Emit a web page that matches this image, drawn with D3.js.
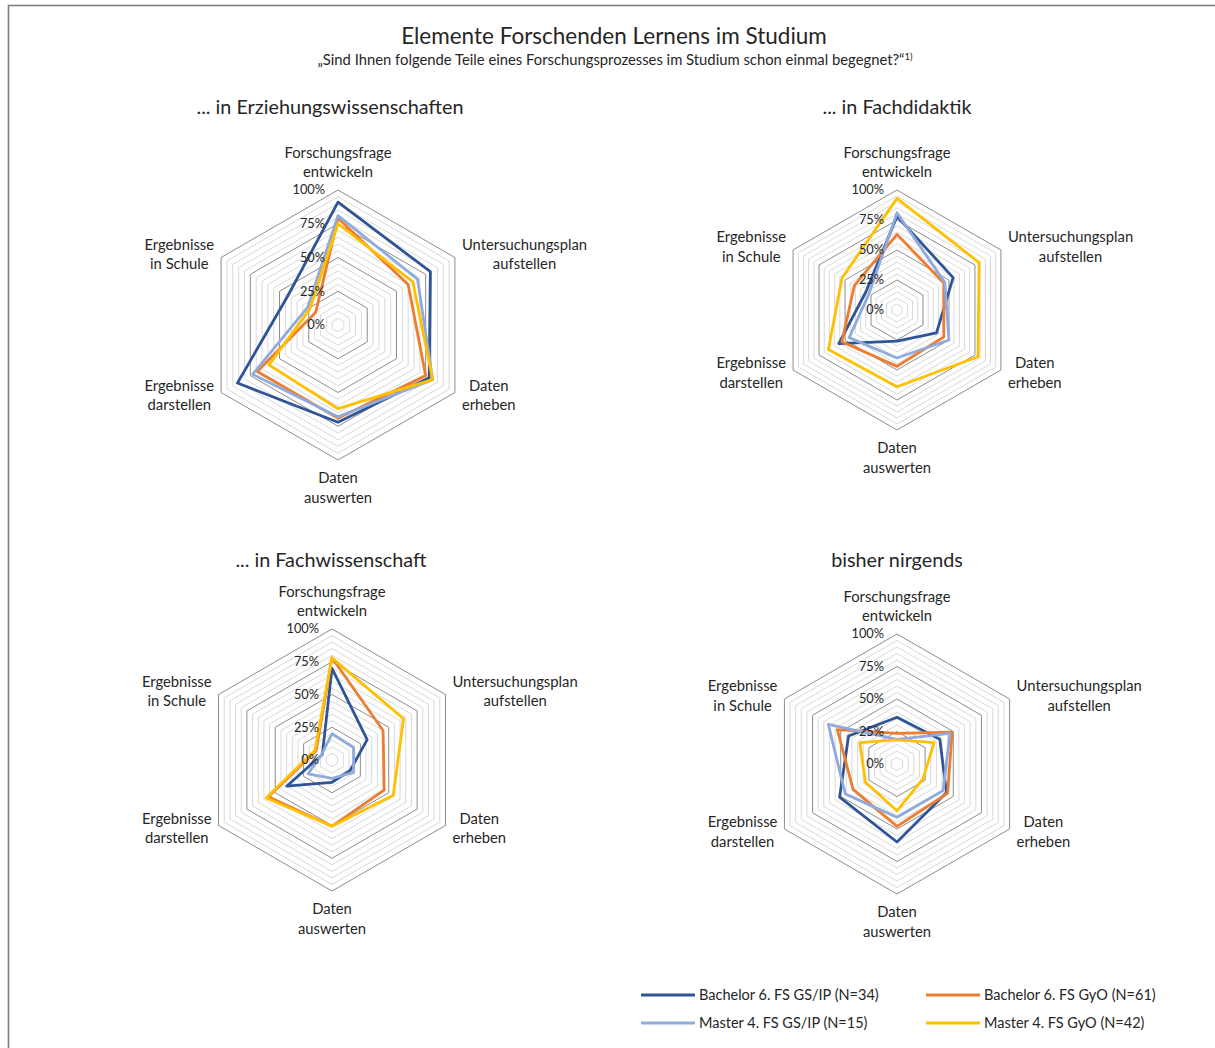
<!DOCTYPE html>
<html><head><meta charset="utf-8">
<script src="https://cdn.jsdelivr.net/npm/d3@7"></script>
<style>
body{margin:0;background:#fff}
svg{display:block}
text{font-family:Lato,"Open Sans",sans-serif;fill:#262626}
</style>
</head><body>
<svg id="chart" width="1215" height="1048"></svg>
<script>
// ---------- DATA ----------
const chartTitle = "Elemente Forschenden Lernens im Studium";
const chartSubtitle = "\u201ESind Ihnen folgende Teile eines Forschungsprozesses im Studium schon einmal begegnet?\u201C";
const subtitleNote = "1)";
const categories = [
  ["Forschungsfrage","entwickeln"],
  ["Untersuchungsplan","aufstellen"],
  ["Daten","erheben"],
  ["Daten","auswerten"],
  ["Ergebnisse","darstellen"],
  ["Ergebnisse","in Schule"]
];
const seriesNames = [
  "Bachelor 6. FS GS/IP (N=34)",
  "Bachelor 6. FS GyO (N=61)",
  "Master 4. FS GS/IP (N=15)",
  "Master 4. FS GyO (N=42)"
];
const tickValues = [0, 0.25, 0.5, 0.75, 1];
const tickLabels = ["0%", "25%", "50%", "75%", "100%"];
const panelTitles = ["... in Erziehungswissenschaften", "... in Fachdidaktik", "... in Fachwissenschaft", "bisher nirgends"];

// ... in Erziehungswissenschaften
const ewBachelorGSIP = [0.91, 0.79, 0.78, 0.72, 0.86, 0.43];
const ewBachelorGyO  = [0.79, 0.60, 0.75, 0.69, 0.69, 0.19];
const ewMasterGSIP   = [0.81, 0.68, 0.81, 0.68, 0.73, 0.26];
const ewMasterGyO    = [0.75, 0.64, 0.81, 0.62, 0.59, 0.24];
// ... in Fachdidaktik
const fdBachelorGSIP = [0.78, 0.54, 0.38, 0.26, 0.56, 0.30];
const fdBachelorGyO  = [0.63, 0.45, 0.45, 0.47, 0.53, 0.41];
const fdMasterGSIP   = [0.81, 0.46, 0.50, 0.40, 0.46, 0.27];
const fdMasterGyO    = [0.93, 0.79, 0.78, 0.64, 0.66, 0.53];
// ... in Fachwissenschaft
const fwBachelorGSIP = [0.70, 0.31, 0.16, 0.17, 0.40, 0.085];
const fwBachelorGyO  = [0.78, 0.45, 0.46, 0.505, 0.56, 0.14];
const fwMasterGSIP   = [0.20, 0.19, 0.19, 0.14, 0.21, 0.09];
const fwMasterGyO    = [0.78, 0.63, 0.54, 0.505, 0.58, 0.15];
// bisher nirgends
const bnBachelorGSIP = [0.36, 0.38, 0.44, 0.60, 0.51, 0.43];
const bnBachelorGyO  = [0.235, 0.49, 0.45, 0.48, 0.39, 0.53];
const bnMasterGSIP   = [0.19, 0.47, 0.41, 0.41, 0.46, 0.61];
const bnMasterGyO    = [0.185, 0.33, 0.23, 0.36, 0.28, 0.33];

// ---------- STYLE / LAYOUT ----------
const colors = ["#2F5597", "#ED7D31", "#8FAADC", "#FFC000"];
const panelData = [
  [ewBachelorGSIP, ewBachelorGyO, ewMasterGSIP, ewMasterGyO],
  [fdBachelorGSIP, fdBachelorGyO, fdMasterGSIP, fdMasterGyO],
  [fwBachelorGSIP, fwBachelorGyO, fwMasterGSIP, fwMasterGyO],
  [bnBachelorGSIP, bnBachelorGyO, bnMasterGSIP, bnMasterGyO]
];
const layout = [
  {cx:338, cy:325, r:135, tx:330, ty:107},
  {cx:897, cy:310, r:120, tx:897, ty:107},
  {cx:332, cy:760, r:131, tx:331, ty:560},
  {cx:897, cy:764, r:130, tx:897, ty:560}
];

const svg = d3.select("#chart");

// outer border
svg.append("rect").attr("x",8.5).attr("y",5.5).attr("width",1400).attr("height",1200)
  .attr("fill","none").attr("stroke","#7f7f7f").attr("stroke-width",1.6);

// title
svg.append("text").attr("x",614).attr("y",44).attr("text-anchor","middle")
  .style("font-size","22.5px").text(chartTitle);
const sub = svg.append("text").attr("x",615).attr("y",65).attr("text-anchor","middle")
  .style("font-size","14.8px");
sub.append("tspan").text(chartSubtitle);
sub.append("tspan").attr("dy",-5).style("font-size","9.5px").text(subtitleNote);

const nCat = categories.length;
const angle = d3.scaleLinear().domain([0, nCat]).range([0, 2*Math.PI]);
const gridSteps = d3.range(1, 21).map(d => d/20);

panelData.forEach((series, p) => {
  const L = layout[p];
  const rScale = d3.scaleLinear().domain([0, 1]).range([0, L.r]);
  const g = svg.append("g").attr("transform", `translate(${L.cx},${L.cy})`);

  svg.append("text").attr("x", L.tx).attr("y", L.ty).attr("dy","0.35em")
    .attr("text-anchor","middle").style("font-size","19.8px").text(panelTitles[p]);

  const hex = d3.lineRadial().angle((d,i) => angle(i)).radius(d => rScale(d)).curve(d3.curveLinearClosed);

  // grid
  const isMajor = v => Math.abs(v*4 - Math.round(v*4)) < 1e-6;
  g.selectAll("path.minor").data(gridSteps.filter(v => !isMajor(v))).join("path")
    .attr("class","minor").attr("d", v => hex(d3.range(nCat).map(() => v)))
    .attr("fill","none").attr("stroke","#d9d9d9").attr("stroke-width",1);
  g.selectAll("path.major").data(gridSteps.filter(isMajor)).join("path")
    .attr("class","major").attr("d", v => hex(d3.range(nCat).map(() => v)))
    .attr("fill","none").attr("stroke","#8c8c8c").attr("stroke-width",1);

  // series
  g.selectAll("path.series").data(series).join("path")
    .attr("class","series").attr("d", d => hex(d))
    .attr("fill","none").attr("stroke", (d,i) => colors[i])
    .attr("stroke-width",2.8).attr("stroke-linejoin","round");

  // tick labels
  g.selectAll("text.tick").data(tickValues).join("text")
    .attr("class","tick").attr("x",-13).attr("y", v => -rScale(v)).attr("dy","0.35em")
    .attr("text-anchor","end").style("font-size","12.8px").text((v,i) => tickLabels[i]);

  // category labels
  const lh = 19.5;
  categories.forEach((lines, i) => {
    const a = angle(i);
    const vx = Math.sin(a) * L.r, vy = -Math.cos(a) * L.r;
    const t = g.append("text").attr("text-anchor","middle").style("font-size","14.8px");
    const spans = lines.map(s => t.append("tspan").text(s));
    const w = d3.max(spans, s => s.node().getComputedTextLength());
    let x = vx, y0;
    if (i === 0) { y0 = vy - 13 - lh; }
    else if (i === 3) { y0 = vy + 23; }
    else {
      x = vx + (vx > 0 ? 1 : -1) * (7 + w/2);
      const c = vy + (vy < 0 ? -3 : 3);
      y0 = c - lh/2 + 5;
    }
    spans.forEach((s, k) => s.attr("x", x).attr("y", y0 + k*lh));
  });
});

// legend
const legendPos = [
  {lx:641, y:995}, {lx:926, y:995}, {lx:641, y:1023}, {lx:926, y:1023}
];
const lg = svg.append("g");
seriesNames.forEach((name, i) => {
  const P = legendPos[i];
  lg.append("line").attr("x1",P.lx).attr("x2",P.lx+54).attr("y1",P.y).attr("y2",P.y)
    .attr("stroke",colors[i]).attr("stroke-width",3);
  lg.append("text").attr("x",P.lx+58).attr("y",P.y).attr("dy","0.35em")
    .style("font-size","14.5px").text(name);
});
</script>
</body></html>
